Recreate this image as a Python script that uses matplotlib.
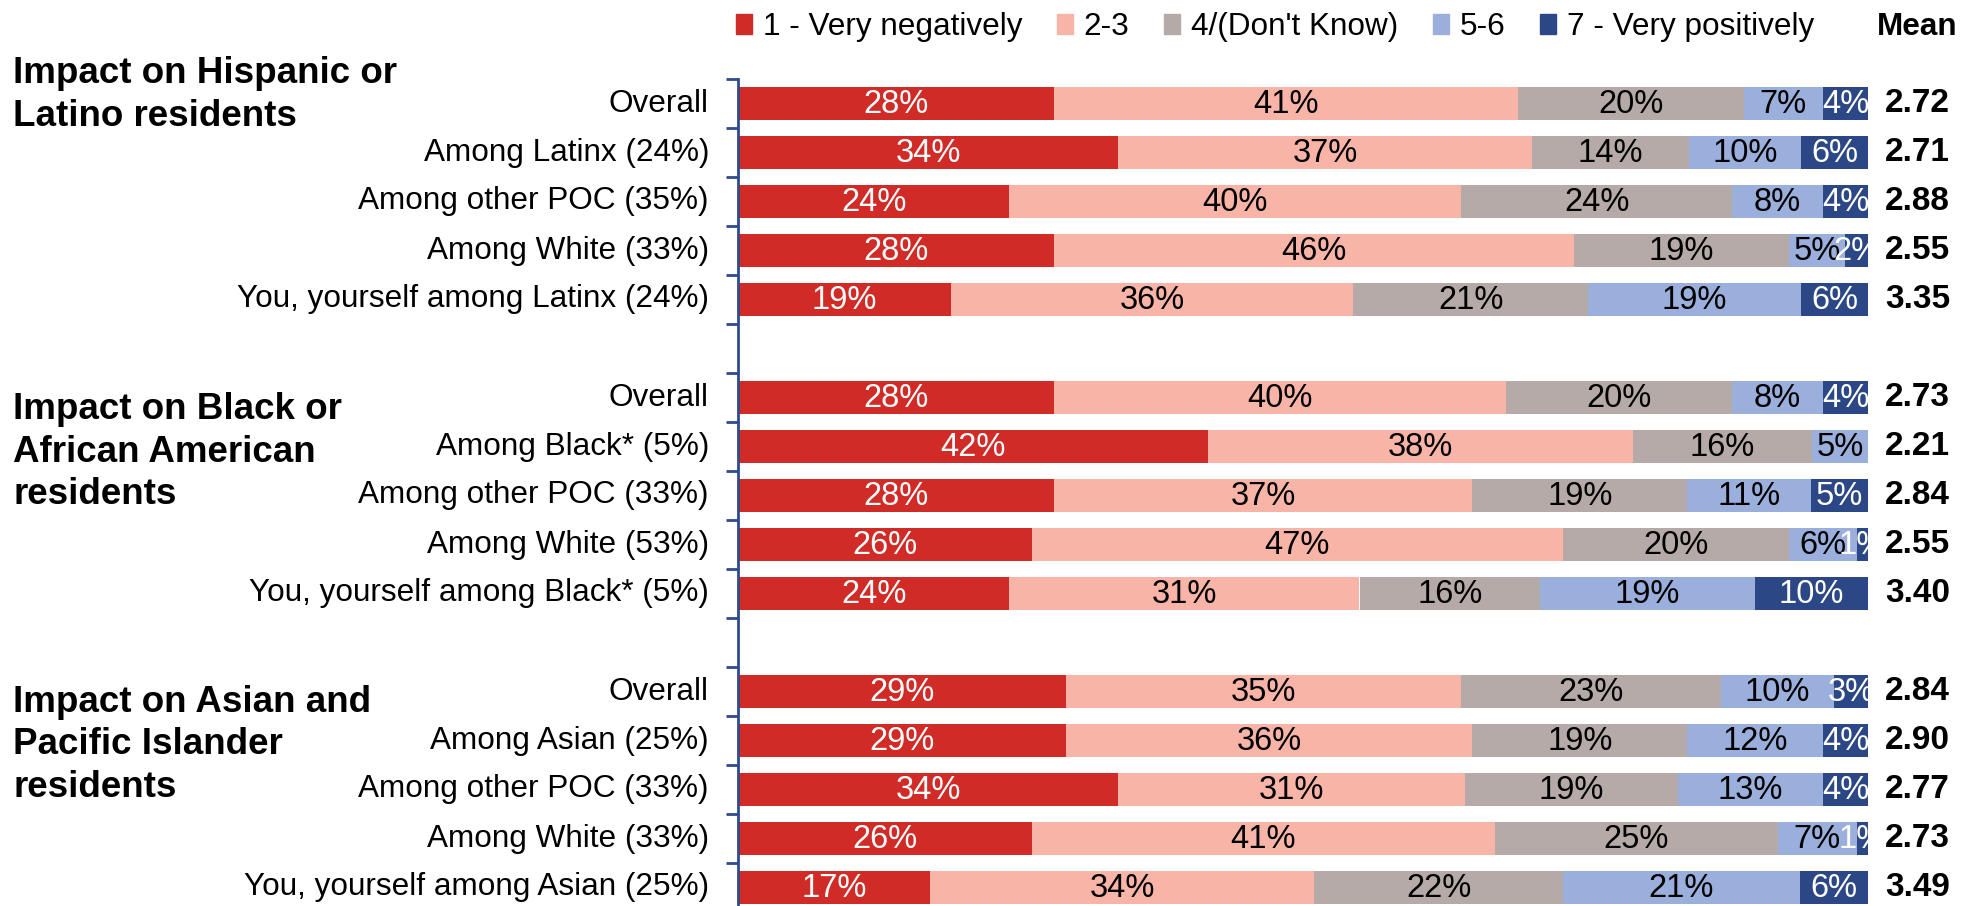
import matplotlib.pyplot as plt
from matplotlib.patches import Patch
import numpy as np

plt.rcParams['font.family'] = ['Liberation Sans', 'DejaVu Sans']

W, H = 1977, 906

categories = ["1 - Very negatively", "2-3", "4/(Don't Know)", "5-6", "7 - Very positively"]
colors = ['#D02B26', '#F8B5A7', '#B5AAA8', '#9BAFDC', '#2C4785']
text_colors = ['white', 'black', 'black', 'black', 'white']

group_titles = ["Impact on Hispanic or\nLatino residents",
                "Impact on Black or\nAfrican American\nresidents",
                "Impact on Asian and\nPacific Islander\nresidents"]

### Hispanic / Latino
labels_hisp = ["Overall", "Among Latinx (24%)", "Among other POC (35%)",
               "Among White (33%)", "You, yourself among Latinx (24%)"]
values_hisp = [[28, 41, 20, 7, 4],
               [34, 37, 14, 10, 6],
               [24, 40, 24, 8, 4],
               [28, 46, 19, 5, 2],
               [19, 36, 21, 19, 6]]
means_hisp = [2.72, 2.71, 2.88, 2.55, 3.35]

### Black / African American
labels_black = ["Overall", "Among Black* (5%)", "Among other POC (33%)",
                "Among White (53%)", "You, yourself among Black* (5%)"]
values_black = [[28, 40, 20, 8, 4],
                [42, 38, 16, 5, 0],
                [28, 37, 19, 11, 5],
                [26, 47, 20, 6, 1],
                [24, 31, 16, 19, 10]]
means_black = [2.73, 2.21, 2.84, 2.55, 3.40]

### Asian / Pacific Islander
labels_asian = ["Overall", "Among Asian (25%)", "Among other POC (33%)",
                "Among White (33%)", "You, yourself among Asian (25%)"]
values_asian = [[29, 35, 23, 10, 3],
                [29, 36, 19, 12, 4],
                [34, 31, 19, 13, 4],
                [26, 41, 25, 7, 1],
                [17, 34, 22, 21, 6]]
means_asian = [2.84, 2.90, 2.77, 2.73, 3.49]

groups = [(labels_hisp, values_hisp, means_hisp),
          (labels_black, values_black, means_black),
          (labels_asian, values_asian, means_asian)]

# one empty slot between groups
slots, row_labels, vals, means = [], [], [], []
for g, (lab, v, m) in enumerate(groups):
    for i in range(len(lab)):
        slots.append(g * 6 + i)
        row_labels.append(lab[i])
        vals.append(v[i])
        means.append(m[i])
slots = np.array(slots)
vals = np.array(vals, dtype=float)
share = vals / vals.sum(axis=1, keepdims=True) * 100   # printed values are rounded
lefts = np.cumsum(share, axis=1) - share

fig = plt.figure(figsize=(W / 100, H / 100), dpi=100)
ax = fig.add_axes([738 / W, 1 - 912 / H, 1130 / W, 833 / H])

axcol = '#2F4B8C'
FS = 22.7

for k in range(len(categories)):
    ax.barh(slots, share[:, k], left=lefts[:, k], height=0.66, color=colors[k])
    for j in range(len(slots)):
        if vals[j, k] <= 0:
            continue
        ax.text(lefts[j, k] + share[j, k] / 2, slots[j] + 0.02, f"{int(vals[j, k])}%",
                ha='center', va='center', fontsize=23.5, color=text_colors[k],
                clip_on=True)

for j in range(len(slots)):
    ax.text(-29 / 1130, slots[j], row_labels[j], transform=ax.get_yaxis_transform(),
            ha='right', va='center', fontsize=FS)
    ax.text(101.5, slots[j], f"{means[j]:.2f}", ha='left', va='center',
            fontsize=24, fontweight='bold', clip_on=False)

ax.set_xlim(0, 100)
ax.set_ylim(16.5, -0.5)
ax.set_xticks([])
ax.set_yticks(np.arange(-0.5, 17, 1))
ax.set_yticklabels([])
ax.tick_params(axis='y', length=9, width=2, color=axcol)
for s in ['top', 'right', 'bottom']:
    ax.spines[s].set_visible(False)
ax.spines['left'].set_color(axcol)
ax.spines['left'].set_linewidth(2)

# group titles
title_y = [95, 452, 745]
for t, y in zip(group_titles, title_y):
    fig.text(13 / W, 1 - y / H, t, ha='left', va='center', fontsize=26.5,
             fontweight='bold', linespacing=1.27)

handles = [Patch(color=c) for c in colors]
fig.legend(handles, categories, loc='center left', bbox_to_anchor=(736 / W, 1 - 27 / H),
           ncol=5, frameon=False, fontsize=FS, handlelength=0.5, handleheight=0.6,
           handletextpad=0.35, columnspacing=1.1, borderpad=0, borderaxespad=0)
fig.text(1877 / W, 1 - 27 / H, "Mean", ha='left', va='center', fontsize=FS,
         fontweight='bold')

fig.savefig('out.png', dpi=100)
